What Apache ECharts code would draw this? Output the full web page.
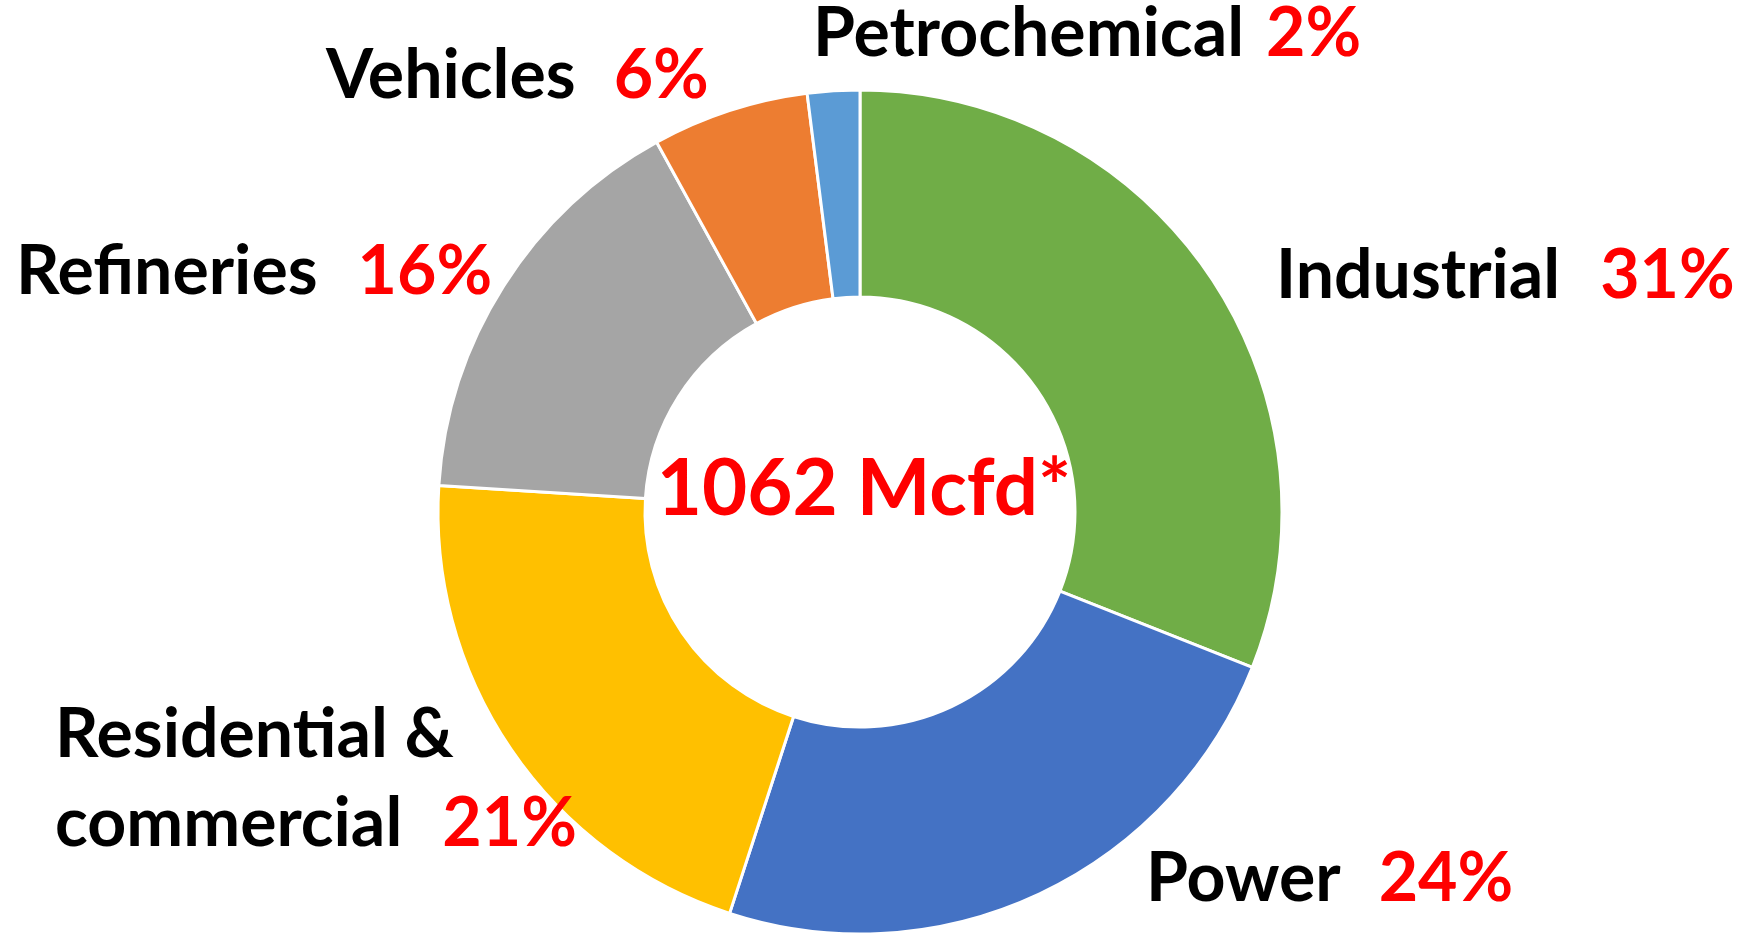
<!DOCTYPE html>
<html>
<head>
<meta charset="utf-8">
<title>Gas demand by sector</title>
<script src="https://cdn.jsdelivr.net/npm/echarts@6/dist/echarts.min.js"></script>
<style>
  html, body { margin: 0; padding: 0; background: #fff; }
  #chart { width: 1749px; height: 934px; }
</style>
</head>
<body>
<div id="chart"></div>
<script>
// sectors, clockwise from 12 o'clock
const sectors = ['Industrial', 'Power', 'Residential &\ncommercial', 'Refineries', 'Vehicles', 'Petrochemical'];
const shares = [31, 24, 21, 16, 6, 2];
const totalMcfd = 1062;

const colors = ['#70AD47', '#4472C4', '#FFC000', '#A5A5A5', '#ED7D31', '#5B9BD5'];

// label anchors (left edge, vertical middle)
const labelPos = [
  [1276, 276],
  [1146, 879],
  [55, 780],
  [16, 272],
  [326, 76],
  [813, 34]
];
const labelGap = [40, 38, 40, 40, 38, 22];

const myChart = echarts.init(document.getElementById('chart'));

const option = {
  animation: false,
  color: colors,
  series: [
    {
      type: 'pie',
      center: [860, 512],
      radius: [215, 422],
      startAngle: 90,
      clockwise: true,
      itemStyle: {
        borderColor: '#fff',
        borderWidth: 3
      },
      label: {
        show: true,
        position: 'inside',
        overflow: 'none',
        formatter: function (p) {
          return '{n|' + p.name + '}{p' + p.dataIndex + '|' + p.value + '%}';
        },
        rich: (function () {
          const r = {
            n: { fontFamily: 'Lato', fontWeight: 'bold', fontSize: 68, color: '#000', lineHeight: 89 }
          };
          labelGap.forEach(function (g, i) {
            r['p' + i] = {
              fontFamily: 'Lato', fontWeight: 'bold', fontSize: 68, color: '#FF0000',
              lineHeight: 89, padding: [0, 0, 0, g]
            };
          });
          return r;
        })()
      },
      labelLine: { show: false },
      labelLayout: function (params) {
        const pos = labelPos[params.dataIndex];
        return { x: pos[0], y: pos[1], align: 'left', verticalAlign: 'middle' };
      },
      data: sectors.map(function (name, i) {
        return { name: name, value: shares[i] };
      })
    }
  ],
  graphic: [
    {
      type: 'text',
      x: 864,
      y: 490,
      style: {
        text: totalMcfd + ' Mcfd*',
        fill: '#FF0000',
        font: 'bold 78px Lato',
        align: 'center',
        verticalAlign: 'middle'
      }
    }
  ]
};

myChart.setOption(option);
</script>
</body>
</html>
